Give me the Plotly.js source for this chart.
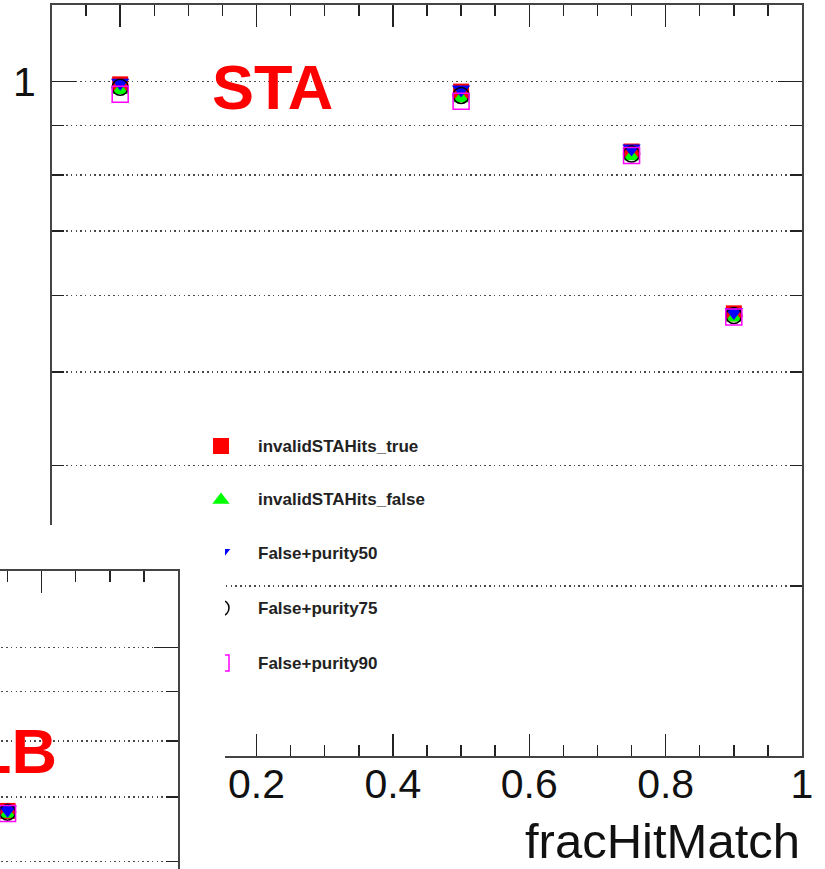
<!DOCTYPE html>
<html>
<head>
<meta charset="utf-8">
<script src="https://cdn.plot.ly/plotly-3.0.1.min.js"></script>
<style>
  html, body { margin: 0; padding: 0; background: #fff; overflow: hidden; }
  #main { position: absolute; left: 0; top: 0; width: 825px; height: 869px; }
  /* lower-left pad holding the GLB panel, drawn over the STA frame */
  #glbPad { position: absolute; left: 0; top: 525px; width: 225px; height: 344px; overflow: hidden; background: #fff; }
  #glb { position: absolute; left: -624px; top: 41px; width: 825px; height: 869px; }
</style>
</head>
<body>
<div id="main"></div>
<div id="glbPad"><div id="glb"></div></div>
<script>
// ---- data ----
const seriesNames = ["invalidSTAHits_true", "invalidSTAHits_false", "False+purity50", "False+purity75", "False+purity90"];
const fracHitMatch = [0.0, 0.5, 0.75, 0.9];
const staTrue  = [0.993, 0.976, 0.846, 0.575];
const staFalse = [0.979, 0.960, 0.836, 0.569];
const staP50   = [0.997, 0.981, 0.852, 0.577];
const staP75   = [0.986, 0.967, 0.841, 0.572];
const staP90   = [0.970, 0.954, 0.838, 0.570];

const glbFrac  = [0.75];
const glbTrue  = [0.677];
const glbFalse = [0.672];
const glbP50   = [0.679];
const glbP75   = [0.675];
const glbP90   = [0.673];

const xTickVals  = [0, 0.2, 0.4, 0.6, 0.8, 1];
const xTickText  = ["", "0.2", "0.4", "0.6", "0.8", "1"];
const xMinorVals = [-0.05, 0.05, 0.1, 0.15, 0.25, 0.3, 0.35, 0.45, 0.5, 0.55, 0.65, 0.7, 0.75, 0.85, 0.9, 0.95];
const yTickVals  = [1];
const yTickText  = ["1"];
const yMinorVals = [0.3, 0.4, 0.5, 0.6, 0.7, 0.8, 0.9];

// ---- styles ----
const FONT = "Liberation Sans, Arial, Helvetica, sans-serif";
const symbols = ["square", "triangle-up", "triangle-down", "circle-open", "square-open"];
const colors  = ["#ff0000", "#00ff00", "#0000ff", "#000000", "#ff00ff"];
const sizes   = [16, 15, 16, 16, 16];
const lineW   = [0, 0, 0, 1.5, 1.5];

// frame geometry in page pixels
const L = 52, R = 802, T = 5, B = 756;
const px = x => (x - L) / (R - L);
const py = y => (B - y) / (B - T);

function dataTraces(xs, ys) {
  return ys.map((vals, i) => ({
    type: "scatter", mode: "markers", x: xs, y: vals, name: seriesNames[i],
    showlegend: false, cliponaxis: true,
    marker: { symbol: symbols[i], color: colors[i], size: sizes[i], opacity: 1,
              line: { color: colors[i], width: lineW[i] } }
  }));
}

const grid = { color: "#4a4a4a", width: 1.5, dash: "1.5px,3.2px" };

function baseLayout(withLabels) {
  return {
    width: 825, height: 869,
    margin: { l: L, r: 825 - R, t: T, b: 869 - B, pad: 0 },
    paper_bgcolor: "rgba(0,0,0,0)", plot_bgcolor: "rgba(0,0,0,0)",
    font: { family: FONT, color: "#111" },
    xaxis: {
      range: [-0.1, 1.0], tickmode: "array", tickvals: xTickVals, ticktext: xTickText,
      ticks: "inside", ticklen: 22, tickwidth: 1.5, tickcolor: "#222",
      showline: true, linewidth: 2, linecolor: "#444", mirror: "ticks",
      showgrid: false, zeroline: false, showticklabels: withLabels,
      tickfont: { size: 41, family: FONT, color: "#111" },
      ticklabelstandoff: -9,
      minor: { tickmode: "array", tickvals: xMinorVals, ticks: "inside", ticklen: 11,
               tickwidth: 1.5, tickcolor: "#222", showgrid: false }
    },
    yaxis: {
      type: "log", range: [Math.log10(0.2), Math.log10(1.2)],
      tickmode: "array", tickvals: yTickVals, ticktext: yTickText,
      ticks: "inside", ticklen: 24, tickwidth: 1.5, tickcolor: "#222",
      showline: true, linewidth: 2, linecolor: "#444", mirror: "ticks",
      showgrid: true, gridcolor: grid.color, gridwidth: grid.width, griddash: grid.dash,
      zeroline: false, showticklabels: withLabels,
      tickfont: { size: 41, family: FONT, color: "#111" },
      ticklabelstandoff: 6,
      minor: { tickmode: "array", tickvals: yMinorVals, ticks: "inside", ticklen: 12,
               tickwidth: 1.5, tickcolor: "#222",
               showgrid: true, gridcolor: grid.color, gridwidth: grid.width, griddash: grid.dash }
    },
    showlegend: false,
    shapes: [],
    annotations: []
  };
}

// ---- STA panel ----
const main = baseLayout(true);
main.xaxis2 = { overlaying: "x", range: [L, R], visible: false, fixedrange: true };
main.yaxis2 = { overlaying: "y", range: [B, T], visible: false, fixedrange: true };

// legend box
const legTop = 414, legBottom = 692, legLeft = 183, legRight = 472;
const legRows = [446, 500, 553, 608, 663];
const legSymX = 221, legTextX = 256;
main.shapes.push({ type: "rect", xref: "paper", yref: "paper", layer: "between",
  x0: px(legLeft), x1: px(legRight), y0: py(legBottom), y1: py(legTop),
  fillcolor: "#ffffff", line: { width: 0 } });
seriesNames.forEach((n, i) => {
  main.annotations.push({ xref: "paper", yref: "paper", x: px(legTextX), y: py(legRows[i]),
    xanchor: "left", yanchor: "middle", showarrow: false, text: "<b>" + n + "</b>",
    font: { family: FONT, size: 17, color: "#222" } });
});
main.annotations.push({ xref: "paper", yref: "paper", x: px(272), y: py(87),
  xanchor: "center", yanchor: "middle", showarrow: false, text: "<b>STA</b>",
  font: { family: FONT, size: 63, color: "#ff0000" } });
main.annotations.push({ xref: "paper", yref: "paper", x: 1, y: py(841),
  xanchor: "right", yanchor: "middle", showarrow: false, text: "fracHitMatch",
  font: { family: FONT, size: 49, color: "#111" } });

const legendMarks = {
  type: "scatter", mode: "markers", xaxis: "x2", yaxis: "y2", showlegend: false,
  hoverinfo: "skip",
  x: legRows.map(() => legSymX), y: legRows,
  marker: { symbol: symbols, color: colors, size: sizes, opacity: 1,
            line: { color: colors, width: lineW } }
};

const staTraces = dataTraces(fracHitMatch, [staTrue, staFalse, staP50, staP75, staP90]);
Plotly.newPlot("main", staTraces.concat([legendMarks]), main, { displayModeBar: false, staticPlot: true });

// ---- GLB panel (only its upper-right corner shows) ----
const glb = baseLayout(false);
glb.annotations.push({ xref: "paper", yref: "paper", x: px(683), y: py(185),
  xanchor: "right", yanchor: "middle", showarrow: false, text: "<b>GLB</b>",
  font: { family: FONT, size: 63, color: "#ff0000" } });
const glbTraces = dataTraces(glbFrac, [glbTrue, glbFalse, glbP50, glbP75, glbP90]);
Plotly.newPlot("glb", glbTraces, glb, { displayModeBar: false, staticPlot: true });
</script>
</body>
</html>
